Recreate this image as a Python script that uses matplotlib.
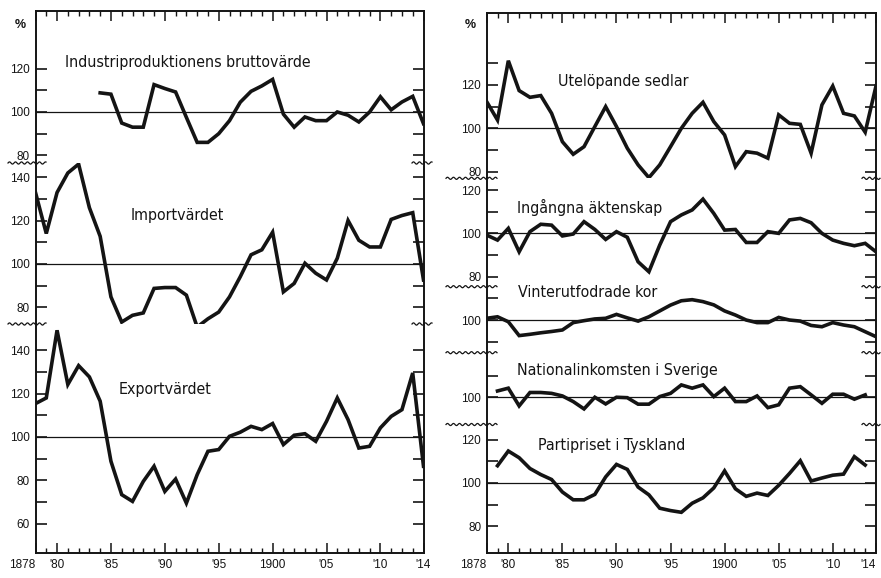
import matplotlib
matplotlib.use("Agg")
import matplotlib.pyplot as plt
from matplotlib.lines import Line2D
from matplotlib.transforms import IdentityTransform
from matplotlib import font_manager
import numpy as np

# ---------------- data ----------------
years = list(range(1878, 1915))
years_industri = list(range(1884, 1915))
years_79_13 = list(range(1879, 1914))

industri = [108.8, 108.2, 94.9, 93.0, 93.0, 112.6, 110.8, 109.2, 97.5, 86.0,
            86.0, 90.0, 96.0, 104.5, 109.5, 112.0, 115.0, 99.0, 93.0, 97.7,
            96.0, 96.0, 100.0, 98.5, 95.4, 100.0, 107.0, 101.0, 104.6, 107.2, 94.6]

importvardet = [132.9, 114.0, 132.9, 141.9, 146.0, 125.9, 112.7, 84.8, 73.2, 76.3,
                77.4, 88.7, 89.1, 89.1, 85.6, 70.9, 74.7, 77.8, 84.8, 94.1,
                104.2, 106.5, 114.6, 87.1, 91.0, 100.3, 95.7, 92.6, 102.6, 120.0,
                110.9, 107.8, 107.8, 120.5, 122.3, 123.6, 92.6]

exportvardet = [115.4, 118.0, 149.2, 124.2, 132.9, 127.7, 116.5, 88.8, 73.4, 70.3,
                79.5, 86.5, 74.9, 80.6, 69.5, 82.6, 93.4, 94.2, 100.3, 102.2,
                104.9, 103.4, 106.2, 96.5, 100.8, 101.5, 98.0, 107.2, 118.0, 108.0,
                94.9, 95.7, 104.2, 109.5, 112.6, 129.5, 86.5]

utelopande = [112.3, 103.8, 131.2, 117.4, 114.3, 115.1, 106.9, 93.8, 88.0, 91.5,
              100.8, 110.0, 100.8, 90.8, 83.1, 77.2, 83.1, 91.5, 100.0, 106.9,
              112.0, 103.1, 96.9, 82.3, 89.2, 88.5, 86.2, 106.2, 102.3, 101.8,
              88.5, 110.8, 119.5, 106.9, 105.7, 98.2, 119.5]

aktenskap = [99.2, 96.9, 102.3, 91.5, 100.8, 104.2, 103.8, 98.8, 99.7, 105.4,
             101.8, 97.2, 100.8, 98.2, 86.9, 82.3, 94.6, 105.4, 108.5, 110.8,
             115.8, 109.2, 101.5, 101.8, 95.8, 95.8, 100.8, 100.0, 106.2, 106.9,
             104.9, 100.0, 96.9, 95.4, 94.3, 95.4, 91.5]

kor = [100.8, 101.5, 99.2, 92.8, 93.4, 94.1, 94.7, 95.4, 98.8, 99.7,
       100.5, 100.8, 102.6, 101.0, 99.5, 101.5, 104.2, 106.9, 108.9, 109.4,
       108.5, 107.0, 104.2, 102.3, 100.0, 98.8, 98.8, 101.2, 100.0, 99.5,
       97.5, 96.9, 98.8, 97.7, 96.9, 94.6, 92.3]

nationalinkomst = [102.9, 104.2, 96.0, 102.2, 102.2, 101.8, 100.6, 98.0, 94.6, 100.0,
                   96.9, 100.0, 99.8, 96.8, 96.8, 100.3, 101.8, 105.7, 104.2, 105.7,
                   100.3, 104.2, 98.0, 98.0, 100.6, 95.2, 96.5, 104.2, 104.9, 101.1,
                   97.2, 101.4, 101.4, 99.1, 101.1]

partipris = [108.0, 114.8, 111.7, 106.7, 103.9, 101.6, 95.8, 92.2, 92.2, 94.7,
             102.8, 108.6, 106.3, 98.1, 94.5, 88.3, 87.2, 86.4, 90.6, 93.1,
             97.7, 105.6, 97.3, 93.8, 95.3, 94.2, 98.9, 104.4, 110.3, 100.9,
             102.3, 103.6, 104.1, 112.2, 108.3]

xtick_pos = [1878, 1880, 1885, 1890, 1895, 1900, 1905, 1910, 1914]
xtick_lab = ["1878", "'80", "'85", "'90", "'95", "1900", "'05", "'10", "'14"]

# ---------------- layout ----------------
W, H = 881, 578
fig = plt.figure(figsize=(W / 100, H / 100), dpi=100)
fig.patch.set_facecolor("white")

# find a condensed face if available
cond_path = None
for f in font_manager.findSystemFonts():
    name = f.lower()
    if "dejavusanscondensed.ttf" in name.replace("-", "").replace("_", ""):
        cond_path = f
        break
if cond_path:
    TITLE_PROPS = dict(fontproperties=font_manager.FontProperties(fname=cond_path, size=11.4))
else:
    TITLE_PROPS = dict(family=["DejaVu Sans"], fontsize=10.2)

TICK_FONT = ["Liberation Sans", "DejaVu Sans"]
INK = "#141414"

# band: (top_px, bottom_px, ylo, yhi, tick_lo, tick_hi, xs, ys, title, tx, ty)
left_bands = [
    (11, 163, 76.5, 146.5, 80, 120, years_industri, industri,
     "Industriproduktionens bruttovärde", 1880.7, 122.6),
    (163, 324, 72.3, 146.5, 80, 140, years, importvardet,
     "Importvärdet", 1886.8, 122.1),
    (324, 553, 46.5, 152.1, 60, 140, years, exportvardet,
     "Exportvärdet", 1885.7, 121.7),
]
right_bands = [
    (13.3, 178.3, 76.9, 153.1, 80, 130, years, utelopande,
     "Utelöpande sedlar", 1884.6, 121.4),
    (178.3, 286.7, 75.4, 125.4, 80, 120, years, aktenskap,
     "Ingångna äktenskap", 1880.8, 112.1),
    (286.7, 352.7, 84.9, 115.4, 90, 110, years, kor,
     "Vinterutfodrade kor", 1880.9, 112.5),
    (352.7, 424.5, 87.4, 120.6, 100, 110, years_79_13, nationalinkomst,
     "Nationalinkomsten i Sverige", 1880.8, 112.6),
    (424.5, 553.3, 67.4, 127.1, 80, 120, years_79_13, partipris,
     "Partipriset i Tyskland", 1882.75, 117.4),
]
# (x_left_px, x_right_px, bands, left wave x-range, right wave x-range, % pos, last label ha)
panels = [(35.5, 423.5, left_bands, (8, 46), (412, 432), (20, 25), "center"),
          (486.7, 876.0, right_bands, (446, 497), (862, 880), (470, 25), "right")]


def wave(x0, x1, ypix):
    xs = np.linspace(x0, x1, 60)
    ys = (H - ypix) + 1.1 * np.sin(2 * np.pi * (xs - x0) / 6.0)
    fig.add_artist(Line2D(xs, ys, transform=IdentityTransform(),
                          color=INK, lw=0.9))


for (xl, xr, bands, wl, wr, pct, last_ha) in panels:
    n = len(bands)
    for i, (top, bot, ylo, yhi, tlo, thi, xs, ys, title, tx, ty) in enumerate(bands):
        ax = fig.add_axes([xl / W, 1 - bot / H, (xr - xl) / W, (bot - top) / H])
        ax.patch.set_visible(False)
        ax.set_xlim(1878, 1914)
        ax.set_ylim(ylo, yhi)
        ax.axhline(100, color=INK, lw=0.9, zorder=1)
        ax.plot(xs, ys, color=INK, lw=2.6, solid_joinstyle="miter", zorder=3)
        ax.text(tx, ty, title, color=INK, ha="left", va="center", **TITLE_PROPS)
        for s in ("left", "right", "top", "bottom"):
            ax.spines[s].set_linewidth(1.4)
            ax.spines[s].set_color(INK)
        ax.spines["top"].set_visible(i == 0)
        ax.spines["bottom"].set_visible(i == n - 1)

        yt = list(range(tlo, thi + 1, 10))
        ax.set_yticks(yt)
        ax.set_yticklabels([str(t) if t % 20 == 0 else "" for t in yt],
                           family=TICK_FONT, fontsize=8.5, color=INK)
        ax.tick_params(axis="y", direction="in", left=True, right=True,
                       length=8, width=1.2, pad=4, colors=INK)

        ax.set_xticks(xtick_pos)
        ax.set_xticks(years, minor=True)
        ax.set_xticklabels(xtick_lab, family=TICK_FONT, fontsize=8.5, color=INK)
        ax.tick_params(axis="x", which="major", direction="in", length=7,
                       width=1.1, pad=4, colors=INK)
        ax.tick_params(axis="x", which="minor", direction="in", length=3.5,
                       width=1.0, colors=INK)
        if i == 0:
            ax.tick_params(axis="x", which="both", top=True, bottom=False,
                           labeltop=False, labelbottom=False)
            fig.text(pct[0] / W, 1 - pct[1] / H, "%", fontsize=9,
                     family=TICK_FONT, color=INK, ha="center", va="center",
                     fontweight="bold")
        elif i == n - 1:
            ax.tick_params(axis="x", which="both", top=False, bottom=True,
                           labelbottom=True)
            labs = ax.get_xticklabels()
            labs[0].set_horizontalalignment("right")
            labs[-1].set_horizontalalignment(last_ha)
        else:
            ax.tick_params(axis="x", which="both", top=False, bottom=False,
                           labelbottom=False)
        if i > 0:
            wave(wl[0], wl[1], top)
            wave(wr[0], wr[1], top)

fig.savefig("out.png", dpi=100, facecolor="white")
